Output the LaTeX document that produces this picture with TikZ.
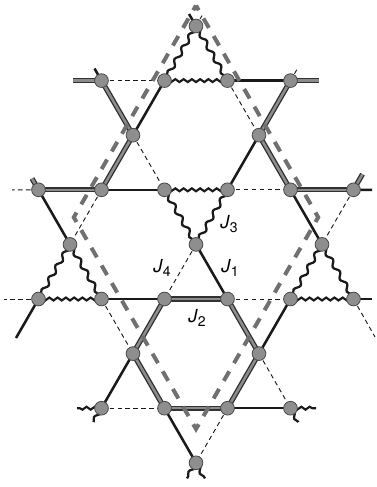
\documentclass[tikz,border=0pt]{standalone}
\usepackage{fontspec}
\setmainfont{TeX Gyre Heros}
\usetikzlibrary{decorations.pathmorphing}
\definecolor{bondk}{HTML}{1A1A1A}
\definecolor{sitefill}{HTML}{8E8E8E}
\definecolor{siteline}{HTML}{4A4A4A}
\definecolor{dblin}{HTML}{8C8C8C}
\definecolor{rhomb}{HTML}{707070}
\tikzset{
 jone/.style={draw=bondk, line width=1.9pt},
 jtwo/.style={draw=bondk!90, double=dblin, line width=1pt, double distance=1.9pt},
 jthree/.style={draw=bondk, line width=1.7pt, decorate, decoration={snake, amplitude=1.6pt, segment length=10.5pt, pre length=0pt, post length=0pt}},
 jthreeh/.style={draw=bondk, line width=1.6pt, decorate, decoration={snake, amplitude=1.1pt, segment length=6.2pt, pre length=0pt, post length=0pt}},
 jfour/.style={draw=bondk, line width=0.7pt, dash pattern=on 3.4pt off 2.6pt},
 site/.style={circle, fill=sitefill, draw=siteline, line width=0.6pt, minimum size=10.3pt, inner sep=0pt},
 cell/.style={draw=rhomb, line width=3pt, dash pattern=on 8.2pt off 7.08pt, dash phase=4.1pt, line join=miter},
 lab/.style={font=\fontsize{13.5}{14}\selectfont, inner sep=0pt}
}
\newcommand{\jlab}[1]{\textit{J}\raisebox{-2.6pt}{\fontsize{10.5}{11}\selectfont #1}}
\begin{document}
\begin{tikzpicture}[x=0.75pt,y=-0.75pt]
\useasboundingbox (0,0) rectangle (376,487);
% lattice sites (M = m+5)
\foreach \M/\k in {5/0, 2/1,4/1,6/1,8/1, 3/2,7/2, 0/3,2/3,4/3,6/3,8/3,10/3, 1/4,5/4,9/4, 0/5,2/5,4/5,6/5,8/5,10/5, 3/6,7/6, 2/7,4/7,6/7,8/7, 5/8}
  \coordinate (c\M x\k) at ({196+31.5*(\M-5)},{26+54.6*\k});
% free ends of stubs
\coordinate (t0a) at (189,14);
\coordinate (t0b) at (202,15.6);
\coordinate (t1a) at (73,80.6);
\coordinate (t1b) at (94.5,68.5);
\coordinate (t1c) at (319,80.6);
\coordinate (t1d) at (297.5,68.5);
\coordinate (t3a) at (12,189.8);
\coordinate (t3b) at (32,178.5);
\coordinate (t3c) at (372,189.8);
\coordinate (t3d) at (362.5,174.2);
\coordinate (t5a) at (4,299);
\coordinate (t5b) at (16,338);
\coordinate (t5c) at (372,299);
\coordinate (t5d) at (375,337);
\coordinate (t7a) at (77,408.2);
\coordinate (t7b) at (93.5,422);
\coordinate (t7c) at (316,408.2);
\coordinate (t7d) at (298.5,422);
\coordinate (t8a) at (187,478.4);
\coordinate (t8b) at (205,478.4);
% stubs
\draw[jone] (c5x0) -- (t0a);
\draw[jfour] (c5x0) -- (t0b);
\draw[jtwo] (c2x1) -- (t1a);
\draw[jone] (c2x1) -- (t1b);
\draw[jtwo] (c8x1) -- (t1c);
\draw[jfour] (c8x1) -- (t1d);
\draw[jfour] (c0x3) -- (t3a);
\draw[jtwo] (c0x3) -- (t3b);
\draw[jone] (c10x3) -- (t3c);
\draw[jtwo] (c10x3) -- (t3d);
\draw[jfour] (c0x5) -- (t5a);
\draw[jone] (c0x5) -- (t5b);
\draw[jone] (c10x5) -- (t5c);
\draw[jfour] (c10x5) -- (t5d);
\draw[jthreeh] (c2x7) -- (t7a);
\draw[jthree] (c2x7) -- (t7b);
\draw[jthreeh] (c8x7) -- (t7c);
\draw[jthree] (c8x7) -- (t7d);
\draw[jthree] (c5x8) -- (t8a);
\draw[jthree] (c5x8) -- (t8b);
% J1 bonds
\foreach \a/\b in {c6x1/c8x1, c4x1/c3x2, c7x2/c6x3, c2x3/c4x3, c0x3/c1x4, c8x3/c9x4, c5x4/c6x5, c2x5/c4x5, c8x5/c7x6, c3x6/c2x7, c6x7/c8x7, c4x7/c5x8}
  \draw[jone] (\a) -- (\b);
% J2 bonds
\foreach \a/\b in {c2x1/c3x2, c8x1/c7x2, c3x2/c2x3, c7x2/c8x3, c0x3/c2x3, c8x3/c10x3, c4x5/c6x5, c4x5/c3x6, c6x5/c7x6, c3x6/c4x7, c7x6/c6x7, c4x7/c6x7}
  \draw[jtwo] (\a) -- (\b);
% J3 bonds
\foreach \a/\b in {c5x0/c4x1, c5x0/c6x1, c4x3/c5x4, c6x3/c5x4, c1x4/c0x5, c1x4/c2x5, c9x4/c8x5, c9x4/c10x5}
  \draw[jthree] (\a) -- (\b);
\foreach \a/\b in {c4x1/c6x1, c4x3/c6x3, c0x5/c2x5, c8x5/c10x5}
  \draw[jthreeh] (\a) -- (\b);
% J4 bonds
\foreach \a/\b in {c2x1/c4x1, c6x1/c7x2, c3x2/c4x3, c6x3/c8x3, c2x3/c1x4, c10x3/c9x4, c5x4/c4x5, c6x5/c8x5, c2x5/c3x6, c7x6/c8x7, c2x7/c4x7, c6x7/c5x8}
  \draw[jfour] (\a) -- (\b);
% unit cell
\coordinate (rt) at (196,5.5);
\coordinate (rl) at (73.8,217.25);
\coordinate (rb) at (196,429);
\coordinate (rr) at (318.2,217.25);
\draw[cell] (rt) -- (rl) -- (rb) -- (rr) -- cycle;
% sites on top
\foreach \M/\k in {5/0, 2/1,4/1,6/1,8/1, 3/2,7/2, 0/3,2/3,4/3,6/3,8/3,10/3, 1/4,5/4,9/4, 0/5,2/5,4/5,6/5,8/5,10/5, 3/6,7/6, 2/7,4/7,6/7,8/7, 5/8}
  \node[site] (n\M x\k) at (c\M x\k) {};
% labels
\node[lab] (l3) at (229,224) {\jlab{3}};
\node[lab] (l4) at (162,268) {\jlab{4}};
\node[lab] (l1) at (230,268) {\jlab{1}};
\node[lab] (l2) at (197,318) {\jlab{2}};
\end{tikzpicture}
\end{document}
